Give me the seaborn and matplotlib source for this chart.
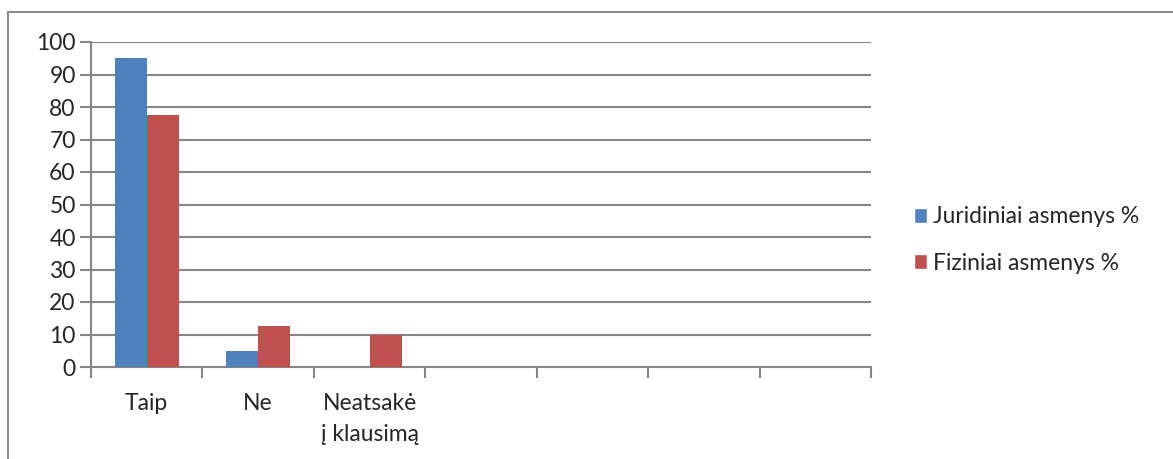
import matplotlib
matplotlib.use('Agg')
import matplotlib.pyplot as plt
from matplotlib.lines import Line2D
from matplotlib.patches import Patch
import seaborn as sns
import pandas as pd
import numpy as np

# Data
categories = ['Taip', 'Ne', 'Neatsakė\nį klausimą']
juridiniai = [95, 5, 0]
fiziniai = [77.5, 12.5, 10]
series_names = ['Juridiniai asmenys %', 'Fiziniai asmenys %']
n_slots = 7  # the category axis has 7 slots, 4 left empty

BLUE = '#4f81bd'
RED = '#c0504d'
GRID = '#868686'
FS = 16.5

sns.set_style('white')
plt.rcParams['font.family'] = ['Lato', 'DejaVu Sans']

df = pd.DataFrame({
    'cat': categories * 2,
    'value': juridiniai + fiziniai,
    'series': [series_names[0]] * len(categories) + [series_names[1]] * len(categories),
})

fig = plt.figure(figsize=(11.73, 4.59), dpi=100)
ax = fig.add_axes([91 / 1173, 1 - 367 / 459, (871 - 91) / 1173, (367 - 42) / 459])

sns.barplot(data=df, x='cat', y='value', hue='series', order=categories,
            hue_order=series_names, palette=[BLUE, RED], width=0.575,
            saturation=1, errorbar=None, legend=False, linewidth=0,
            ax=ax, zorder=3)

ax.set_xlim(-0.5, n_slots - 0.5)
ax.set_ylim(0, 100)
ax.set_yticks(np.arange(0, 101, 10))
ax.set_xlabel('')
ax.set_ylabel('')

# gridlines
ax.yaxis.grid(True, color=GRID, linewidth=1.5, zorder=0)
ax.set_axisbelow(True)

for side in ['top', 'right']:
    ax.spines[side].set_visible(False)
for side in ['left', 'bottom']:
    ax.spines[side].set_color(GRID)
    ax.spines[side].set_linewidth(1.5)

ax.tick_params(axis='y', length=8, width=1.5, color=GRID, labelsize=FS, pad=3, left=True)
ax.tick_params(axis='x', which='major', length=0, labelsize=FS, pad=19)
ax.set_xticks(np.arange(-0.5, n_slots, 1.0), minor=True)
ax.tick_params(axis='x', which='minor', length=8, width=1.5, color=GRID, bottom=True)
for lbl in ax.get_xticklabels():
    lbl.set_linespacing(1.55)

handles = [Patch(facecolor=BLUE), Patch(facecolor=RED)]
fig.legend(handles, series_names, loc='center left', bbox_to_anchor=(893 / 1173, 1 - 240 / 459),
           frameon=False, fontsize=FS, handlelength=0.6, handleheight=0.6,
           handletextpad=0.25, labelspacing=1.1)

# outer chart border (left and top visible)
fig.add_artist(Line2D([8 / 1173, 8 / 1173], [0, 1 - 12 / 459], transform=fig.transFigure,
                      color='#8c8c8c', linewidth=1.5))
fig.add_artist(Line2D([8 / 1173, 1], [1 - 12 / 459, 1 - 12 / 459], transform=fig.transFigure,
                      color='#8c8c8c', linewidth=1.5))

fig.savefig('out.png', dpi=100)
